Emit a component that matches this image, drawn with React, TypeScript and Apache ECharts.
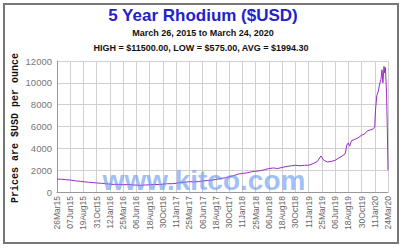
import React, { useEffect, useRef } from "react";
import * as echarts from "echarts";

const START = "2015-03-26";
const TICK_DAYS = 73;
const TICK_COUNT = 25;
const Y_TICKS = [0, 2000, 4000, 6000, 8000, 10000, 12000];

const dates: string[] = [
  "2015-03-26", "2015-04-20", "2015-05-15", "2015-06-07", "2015-07-05", "2015-08-01", "2015-08-19",
  "2015-09-15", "2015-10-10", "2015-10-31", "2015-11-25", "2015-12-20", "2016-01-12", "2016-02-05",
  "2016-03-01", "2016-03-25", "2016-04-20", "2016-05-15", "2016-06-06", "2016-07-01", "2016-07-25",
  "2016-08-18", "2016-09-15", "2016-10-10", "2016-10-30", "2016-11-25", "2016-12-20", "2017-01-11",
  "2017-02-10", "2017-03-10", "2017-03-25", "2017-04-20", "2017-05-15", "2017-06-06", "2017-07-01",
  "2017-08-01", "2017-08-18", "2017-09-15", "2017-10-10", "2017-10-30", "2017-11-25", "2017-12-20",
  "2018-01-11", "2018-02-05", "2018-03-01", "2018-03-25", "2018-04-20", "2018-05-15", "2018-06-06",
  "2018-07-01", "2018-07-25", "2018-08-18", "2018-09-15", "2018-10-10", "2018-10-30", "2018-11-25",
  "2018-12-20", "2019-01-11", "2019-02-05", "2019-03-01", "2019-03-20", "2019-04-05", "2019-04-25",
  "2019-05-15", "2019-06-06", "2019-06-25", "2019-07-15", "2019-08-01", "2019-08-10", "2019-08-18",
  "2019-08-25", "2019-09-05", "2019-09-20", "2019-10-10", "2019-10-30", "2019-11-15", "2019-12-01",
  "2019-12-20", "2020-01-05", "2020-01-11", "2020-01-15", "2020-01-22", "2020-01-30", "2020-02-07",
  "2020-02-14", "2020-02-20", "2020-02-25", "2020-03-02", "2020-03-06", "2020-03-10", "2020-03-16",
  "2020-03-20", "2020-03-24",
];

const prices: number[] = [
  1180, 1170, 1120, 1100, 1020, 980, 940,
  900, 860, 830, 800, 760, 720, 690,
  700, 660, 690, 650, 630, 610, 640,
  660, 690, 680, 720, 760, 760, 800,
  880, 920, 950, 920, 960, 1000, 1050,
  1100, 1150, 1250, 1300, 1400, 1500, 1650,
  1700, 1750, 1850, 1900, 1950, 2050, 2150,
  2200, 2150, 2250, 2350, 2400, 2450, 2400,
  2450, 2450, 2600, 2800, 3300, 2900, 2750,
  2800, 2900, 3100, 3300, 3500, 4300, 4500,
  4200, 4700, 4800, 4950, 5200, 5300, 5600,
  5700, 5800, 6000, 7500, 8800, 9200, 9900,
  10300, 11200, 10000, 11500, 10900, 11400, 9000,
  6000, 2000,
];

const MONTHS = ["Jan", "Feb", "Mar", "Apr", "May", "Jun", "Jul", "Aug", "Sep", "Oct", "Nov", "Dec"];
const DAY_MS = 86400000;
const startMs = Date.parse(START + "T00:00:00Z");
const dayOf = (d: string) => Math.round((Date.parse(d + "T00:00:00Z") - startMs) / DAY_MS);
const fmtDay = (v: number) => {
  const d = new Date(startMs + v * DAY_MS);
  const dd = String(d.getUTCDate()).padStart(2, "0");
  const yy = String(d.getUTCFullYear()).slice(2);
  return dd + MONTHS[d.getUTCMonth()] + yy;
};

const TITLE = "5 Year Rhodium ($USD)";
const SUBTITLE = "March 26, 2015 to March 24, 2020";
const STATS = "HIGH = $11500.00, LOW = $575.00, AVG = $1994.30";
const Y_NAME = "Prices are $USD per ounce";
const WATERMARK = "www.kitco.com";

export default function App() {
  const ref = useRef<HTMLDivElement>(null);
  useEffect(() => {
    if (!ref.current) return;
    const chart = echarts.init(ref.current, null, { renderer: "svg" });
    const seriesData = dates.map((d, i) => [dayOf(d), prices[i]]);
    chart.setOption({
      animation: false,
      backgroundColor: "#ffffff",
      grid: { left: 57, right: 17, top: 61, bottom: 60 },
      xAxis: {
        type: "value",
        min: 0,
        max: TICK_DAYS * TICK_COUNT,
        interval: TICK_DAYS,
        axisLine: { show: true, lineStyle: { color: "#999", width: 1 } },
        axisTick: { show: false },
        splitLine: { show: true, lineStyle: { color: "#d0d0d0", width: 1 } },
        axisLabel: {
          rotate: 90,
          color: "#666",
          fontSize: 8.5,
          fontFamily: "Liberation Sans, Arial, sans-serif",
          margin: 4,
          formatter: (v: number) => fmtDay(v),
        },
      },
      yAxis: {
        type: "value",
        min: Y_TICKS[0],
        max: Y_TICKS[Y_TICKS.length - 1],
        interval: Y_TICKS[1] - Y_TICKS[0],
        axisLine: { show: true, lineStyle: { color: "#999", width: 1 } },
        axisTick: { show: false },
        splitLine: { show: true, lineStyle: { color: "#d0d0d0", width: 1 } },
        axisLabel: {
          color: "#777",
          fontSize: 9.5,
          fontFamily: "Liberation Sans, Arial, sans-serif",
          margin: 5,
          formatter: (v: number) => String(v),
        },
      },
      series: [
        {
          type: "line",
          data: seriesData,
          showSymbol: false,
          lineStyle: { color: "#9a2cc4", width: 1 },
          z: 2,
        },
      ],
      graphic: [
        {
          type: "rect",
          shape: { x: 4, y: 4, width: 394, height: 239 },
          style: { fill: "none", stroke: "#777", lineWidth: 2 },
          z: 0,
          silent: true,
        },
        {
          type: "text",
          x: 203, y: 15,
          style: {
            text: TITLE, fill: "#2222cc", font: "bold 17px 'Liberation Sans', Arial, sans-serif",
            textAlign: "center", textVerticalAlign: "middle",
          },
        },
        {
          type: "text",
          x: 203, y: 33,
          style: {
            text: SUBTITLE, fill: "#111", font: "bold 9px 'Liberation Sans', Arial, sans-serif",
            textAlign: "center", textVerticalAlign: "middle",
          },
        },
        {
          type: "text",
          x: 201, y: 48,
          style: {
            text: STATS, fill: "#111", font: "bold 9px 'Liberation Sans', Arial, sans-serif",
            textAlign: "center", textVerticalAlign: "middle",
          },
        },
        {
          type: "text",
          x: 15, y: 128,
          rotation: Math.PI / 2,
          style: {
            text: Y_NAME, fill: "#111", font: "bold 10px 'Liberation Mono', 'DejaVu Sans Mono', monospace",
            textAlign: "center", textVerticalAlign: "middle",
          },
        },
        {
          type: "text",
          x: 204, y: 180,
          z: 10,
          style: {
            text: WATERMARK, fill: "rgba(100,150,240,0.6)", font: "bold 28px 'Liberation Sans', Arial, sans-serif",
            textAlign: "center", textVerticalAlign: "middle",
          },
        },
      ],
    });
    return () => chart.dispose();
  }, []);
  return <div ref={ref} style={{ width: 405, height: 252, position: "absolute", left: 0, top: 0 }} />;
}
